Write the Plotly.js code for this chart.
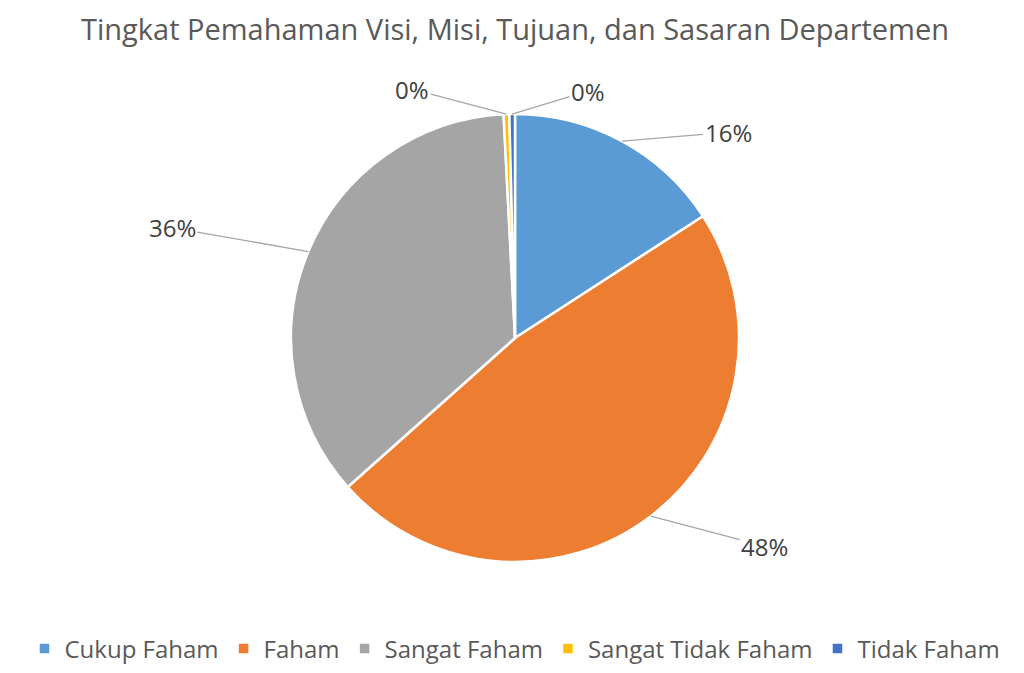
<!DOCTYPE html>
<html>
<head>
<meta charset="utf-8">
<script src="https://cdn.plot.ly/plotly-3.0.1.min.js"></script>
<style>html,body{margin:0;padding:0;background:#fff;}#chart{width:1024px;height:673px;}</style>
</head>
<body>
<div id="chart"></div>
<script>
// ---- data ----
const categories = ["Cukup Faham", "Faham", "Sangat Faham", "Sangat Tidak Faham", "Tidak Faham"];
const counts = [39, 117, 88, 1, 1];
const sliceColors = ["#5B9BD5", "#ED7D31", "#A5A5A5", "#FFC000", "#4472C4"];
const chartTitle = "Tingkat Pemahaman Visi, Misi, Tujuan, dan Sasaran Departemen";

// ---- layout constants (styling / label placement) ----
const W = 1024, H = 673;
const M = {l: 6, r: 0, t: 114, b: 111};
const labelOffsets = [[106, -9], [114, 30], [-136, -24], [-94, -25], [76, -23]]; // px offset of label from slice edge
const FONT = "Open Sans, Liberation Sans, sans-serif";

const total = counts.reduce((a, b) => a + b, 0);
const plotW = W - M.l - M.r, plotH = H - M.t - M.b;
const R = Math.min(plotW, plotH) / 2;
const annotations = [];
let cum = 0;
counts.forEach((v, i) => {
  const mid = (cum + v / 2) / total * 2 * Math.PI;
  cum += v;
  const px = plotW / 2 + R * Math.sin(mid);
  const py = plotH / 2 - R * Math.cos(mid);
  annotations.push({
    xref: "paper", yref: "paper",
    x: px / plotW, y: 1 - py / plotH,
    ax: labelOffsets[i][0], ay: labelOffsets[i][1],
    axref: "pixel", ayref: "pixel",
    text: Math.round(v / total * 100) + "%",
    showarrow: true, arrowhead: 0, arrowwidth: 1.3, arrowcolor: "#A6A6A6",
    standoff: 0, startstandoff: 0,
    font: {family: FONT, size: 24, color: "#404040"}
  });
});

const trace = {
  type: "pie",
  labels: categories,
  values: counts,
  sort: false,
  direction: "clockwise",
  rotation: 0,
  marker: {colors: sliceColors, line: {color: "#ffffff", width: 2.5}},
  textinfo: "none",
  hoverinfo: "label+percent",
  domain: {x: [0, 1], y: [0, 1]}
};

const layout = {
  width: W, height: H,
  margin: M,
  paper_bgcolor: "#ffffff",
  title: {
    text: chartTitle,
    x: 0.5, xref: "paper", xanchor: "center",
    y: 1 - 30 / H, yref: "container", yanchor: "middle",
    font: {family: FONT, size: 29, color: "#595959"}
  },
  showlegend: true,
  legend: {
    orientation: "h",
    x: 0.5, xanchor: "center",
    y: -(649 - (H - M.b)) / plotH, yanchor: "middle",
    font: {family: FONT, size: 24, color: "#595959"},
    itemwidth: 30,
    traceorder: "normal"
  },
  annotations: annotations
};

Plotly.newPlot("chart", [trace], layout, {displayModeBar: false, staticPlot: true});
</script>
</body>
</html>
